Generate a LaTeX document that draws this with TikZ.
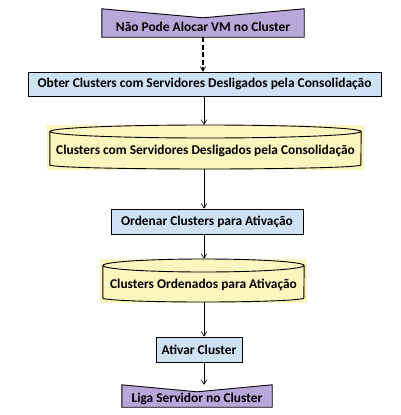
\documentclass[tikz,border=0pt]{standalone}
\usepackage{fontspec}
\setmainfont{Carlito}
\usetikzlibrary{arrows.meta,calc}
\definecolor{boxblue}{RGB}{207,226,243}
\definecolor{cylyellow}{RGB}{250,246,190}
\definecolor{evpurple}{RGB}{183,168,218}
\begin{document}
\begin{tikzpicture}[x=1pt,y=-1pt,
  txt/.style={font=\bfseries\fontsize{13.4}{15}\selectfont, inner sep=0pt, align=center},
  proc/.style={txt, draw=black, line width=0.8pt, fill=boxblue},
  flow/.style={-{Straight Barb[length=4.5pt,width=5.5pt]}, line width=0.6pt},
  dflow/.style={-{Straight Barb[length=4.5pt,width=5.5pt,line width=0.6pt]}, line width=1.8pt, dash pattern=on 5pt off 2.5pt},
  outl/.style={draw=black, line width=0.9pt}]
\useasboundingbox (0,0) rectangle (400,415);

% top event
\node[txt, minimum width=202pt, minimum height=28pt] (n1) at (203,23) {};
\filldraw[outl, fill=evpurple] (n1.north west) -- ($(n1.north)+(0,9)$) -- (n1.north east) -- (n1.south east) -- (n1.south west) -- cycle;
\node[txt] at ($(n1.center)+(0,4)$) {Não Pode Alocar VM no Cluster};

% process 1
\node[proc, minimum width=353pt, minimum height=24pt] (n2) at (204.5,84) {Obter Clusters com Servidores Desligados pela Consolidação};

% cylinder 1
\node[txt, minimum width=311pt, minimum height=44pt] (c1) at (205.5,147) {};
\fill[cylyellow] ($(c1.north west)+(-3,0)$) rectangle ($(c1.south east)+(3,1)$);
\filldraw[outl, fill=cylyellow] (c1.west |- 0,131.5) -- (c1.west |- 0,165)
  arc[start angle=180, end angle=0, x radius=155.5, y radius=4]
  -- (c1.east |- 0,131.5);
\filldraw[outl, fill=cylyellow] (c1.center |- 0,131.5) ellipse [x radius=155.5, y radius=6.5];
\node[txt] at ($(c1.center)+(0,4)$) {Clusters com Servidores Desligados pela Consolidação};

% process 2
\node[proc, minimum width=192pt, minimum height=25pt] (n3) at (207,221.5) {Ordenar Clusters para Ativação};

% cylinder 2
\node[txt, minimum width=201pt, minimum height=43pt] (c2) at (203.5,280.5) {};
\fill[cylyellow] ($(c2.north west)+(-3,0)$) rectangle ($(c2.south east)+(3,1)$);
\filldraw[outl, fill=cylyellow] (c2.west |- 0,265.5) -- (c2.west |- 0,298)
  arc[start angle=180, end angle=0, x radius=100.5, y radius=4]
  -- (c2.east |- 0,265.5);
\filldraw[outl, fill=cylyellow] (c2.center |- 0,265.5) ellipse [x radius=100.5, y radius=6.5];
\node[txt] at ($(c2.center)+(0,4)$) {Clusters Ordenados para Ativação};

% process 3
\node[proc, minimum width=86pt, minimum height=25pt] (n4) at (199,349.5) {Ativar Cluster};

% bottom event
\node[txt, minimum width=150pt, minimum height=22pt] (n5) at (197,396) {};
\filldraw[outl, fill=evpurple] (n5.north west) -- ($(n5.north)+(0,7)$) -- (n5.north east) -- (n5.south east) -- (n5.south west) -- cycle;
\node[txt] at ($(n5.center)+(0,3)$) {Liga Servidor no Cluster};

% connectors
\draw[dflow] (n1.south -| 203,0) -- (n2.north -| 203,0);
\draw[flow] (n2.south -| 204,0) -- (c1.north -| 204,0);
\draw[flow] (c1.south -| 204,0) -- (n3.north -| 204,0);
\draw[flow] (n3.south -| 204,0) -- (c2.north -| 204,0);
\draw[flow] (c2.south -| 204,0) -- (n4.north -| 204,0);
\draw[flow] (n4.south -| 204,0) -- (n5.north -| 204,0);
\end{tikzpicture}
\end{document}
